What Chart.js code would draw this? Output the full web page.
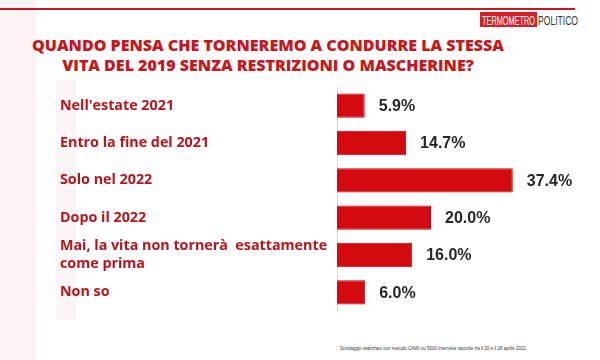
<!DOCTYPE html>
<html><head><meta charset="utf-8">
<script src="https://cdn.jsdelivr.net/npm/chart.js@4"></script>
<style>
html,body{margin:0;padding:0;background:#fff;}
#wrap{position:relative;width:600px;height:360px;overflow:hidden;background:#fff;}
#bg1{position:absolute;left:0;top:0;width:36px;height:360px;background:#fcf3f3;}
#bg2{position:absolute;left:56px;top:80px;width:20px;height:240px;background:#fcf5f5;}
#topline{position:absolute;left:0;top:8px;width:575px;height:2px;background:#c8161d;}
#logo{position:absolute;left:480px;top:11px;}
#title{position:absolute;left:0;width:536px;top:36px;text-align:center;font-family:"Open Sans",sans-serif;font-weight:800;font-size:16px;line-height:19.5px;color:#c8161d;}
#foot{position:absolute;left:340px;top:346px;font-family:"Liberation Sans",sans-serif;font-size:4.5px;color:#333;white-space:nowrap;}
canvas{position:absolute;left:0;top:0;}
</style></head>
<body><div id="wrap">
<div id="bg1"></div><div id="bg2"></div>
<div id="topline"></div>
<svg id="logo" width="100" height="18" xmlns="http://www.w3.org/2000/svg">
  <rect x="0" y="1" width="57" height="15" fill="#d4202a"/>
  <text x="2" y="13.5" font-family="Liberation Sans Narrow, sans-serif" font-size="13" fill="#fff" textLength="53" lengthAdjust="spacingAndGlyphs">TERMOMETRO</text>
  <text x="58" y="13.5" font-family="Liberation Sans Narrow, sans-serif" font-size="13" fill="#333" textLength="40" lengthAdjust="spacingAndGlyphs">POLITICO</text>
</svg>
<div id="title">QUANDO PENSA CHE TORNEREMO A CONDURRE LA STESSA<br>VITA DEL 2019 SENZA RESTRIZIONI O MASCHERINE?</div>
<div id="foot">Sondaggio realizzato con metodo CAWI su 5000 interviste raccolte tra il 20 e il 28 aprile 2021</div>
<canvas id="c" width="600" height="360"></canvas>
</div>
<script>
const categories = [
  "Nell'estate 2021",
  "Entro la fine del 2021",
  "Solo nel 2022",
  "Dopo il 2022",
  ["Mai, la vita non tornerà  esattamente", "come prima"],
  "Non so"
];
const values = [5.9, 14.7, 37.4, 20.0, 16.0, 6.0];

const valueLabels = {
  id: 'valueLabels',
  afterDatasetsDraw(chart) {
    const ctx = chart.ctx;
    const meta = chart.getDatasetMeta(0);
    ctx.save();
    ctx.font = 'bold 16px "Liberation Sans", sans-serif';
    ctx.fillStyle = '#262626';
    ctx.textAlign = 'left';
    ctx.textBaseline = 'middle';
    meta.data.forEach((bar, i) => {
      ctx.fillText(values[i].toFixed(1) + '%', bar.x + 14, bar.y + 1);
    });
    ctx.restore();
  }
};

new Chart(document.getElementById('c'), {
  type: 'bar',
  data: {
    labels: categories,
    datasets: [{
      data: values,
      backgroundColor: '#d30a10',
      borderColor: '#c2080d',
      borderWidth: 1,
      borderSkipped: 'left',
      barPercentage: 0.65,
      categoryPercentage: 1.0
    }]
  },
  options: {
    indexAxis: 'y',
    responsive: false,
    animation: false,
    events: [],
    layout: { padding: { left: 60, top: 87, bottom: 49, right: 28 } },
    plugins: { legend: { display: false }, tooltip: { enabled: false } },
    scales: {
      x: {
        display: false,
        min: 0,
        max: 50
      },
      y: {
        afterFit(scale) { scale.width = 277; },
        grid: { display: false, drawTicks: false },
        border: { display: true, color: '#d8d8d8', width: 1 },
        ticks: {
          crossAlign: 'far',
          padding: 0,
          color: '#b8141c',
          font: { family: '"Open Sans", sans-serif', weight: 'bold', size: 14.3, lineHeight: 1.2 }
        }
      }
    }
  },
  plugins: [valueLabels]
});
</script>
</body></html>
